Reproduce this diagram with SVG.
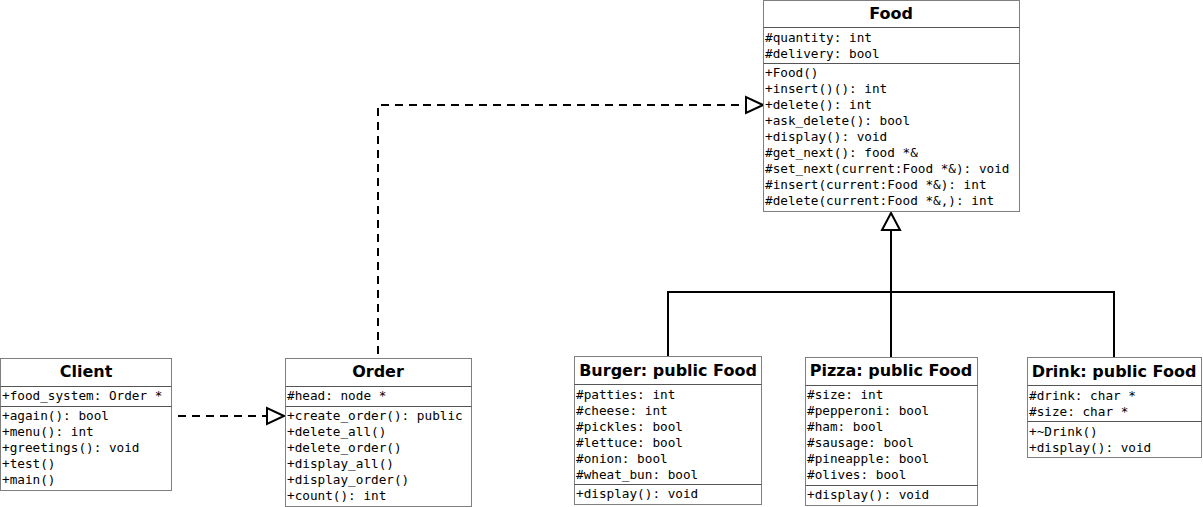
<svg xmlns="http://www.w3.org/2000/svg" width="1203" height="507" viewBox="0 0 1203 507">
<style>
.box{fill:#fff;stroke:#7f7f7f;stroke-width:1}
.div{stroke:#555;stroke-width:1}
.t{font-family:"DejaVu Sans",sans-serif;font-weight:bold;font-size:16px;fill:#000;text-anchor:middle}
.m{font-family:"DejaVu Sans Mono",monospace;font-size:12.7px;fill:#000}
.c{fill:none;stroke:#000;stroke-width:2}
.d{stroke-dasharray:8 6}
.h{fill:#fff;stroke:#000;stroke-width:2}
</style>
<g id="connectors">
<path class="c d" d="M378,354 V105 H746"/>
<polygon class="h" points="763,105 746,97 746,113"/>
<path class="c d" d="M178,416 H267"/>
<polygon class="h" points="284,416 267,408 267,424"/>
<path class="c" d="M668,356 V292 H1114 V357 M891,292 V357 M891,292 V230"/>
<polygon class="h" points="891,213 882,230 900,230"/>
</g>
<g id="food">
<rect class="box" x="763.5" y="0.5" width="256" height="211"/>
<line class="div" x1="763.5" y1="27.5" x2="1019.5" y2="27.5"/>
<line class="div" x1="763.5" y1="63.5" x2="1019.5" y2="63.5"/>
<text class="t" x="891" y="19">Food</text>
<text class="m" x="765" y="42">#quantity: int</text>
<text class="m" x="765" y="58">#delivery: bool</text>
<text class="m" x="765" y="77">+Food()</text>
<text class="m" x="765" y="93">+insert()(): int</text>
<text class="m" x="765" y="109">+delete(): int</text>
<text class="m" x="765" y="125">+ask_delete(): bool</text>
<text class="m" x="765" y="141">+display(): void</text>
<text class="m" x="765" y="157">#get_next(): food *&amp;</text>
<text class="m" x="765" y="173">#set_next(current:Food *&amp;): void</text>
<text class="m" x="765" y="189">#insert(current:Food *&amp;): int</text>
<text class="m" x="765" y="205">#delete(current:Food *&amp;,): int</text>
</g>
<g id="client">
<rect class="box" x="0.5" y="358.5" width="171" height="132"/>
<line class="div" x1="0.5" y1="386.5" x2="171.5" y2="386.5"/>
<line class="div" x1="0.5" y1="406.5" x2="171.5" y2="406.5"/>
<text class="t" x="86" y="377">Client</text>
<text class="m" x="2" y="400">+food_system: Order *</text>
<text class="m" x="2" y="420">+again(): bool</text>
<text class="m" x="2" y="436">+menu(): int</text>
<text class="m" x="2" y="452">+greetings(): void</text>
<text class="m" x="2" y="468">+test()</text>
<text class="m" x="2" y="484">+main()</text>
</g>
<g id="order">
<rect class="box" x="285.5" y="358.5" width="186" height="148"/>
<line class="div" x1="285.5" y1="386.5" x2="471.5" y2="386.5"/>
<line class="div" x1="285.5" y1="406.5" x2="471.5" y2="406.5"/>
<text class="t" x="378" y="377">Order</text>
<text class="m" x="287" y="400">#head: node *</text>
<text class="m" x="287" y="420">+create_order(): public</text>
<text class="m" x="287" y="436">+delete_all()</text>
<text class="m" x="287" y="452">+delete_order()</text>
<text class="m" x="287" y="468">+display_all()</text>
<text class="m" x="287" y="484">+display_order()</text>
<text class="m" x="287" y="500">+count(): int</text>
</g>
<g id="burger">
<rect class="box" x="574.5" y="356.5" width="187" height="148"/>
<line class="div" x1="574.5" y1="384.5" x2="761.5" y2="384.5"/>
<line class="div" x1="574.5" y1="484.5" x2="761.5" y2="484.5"/>
<text class="t" x="668" y="376">Burger: public Food</text>
<text class="m" x="576" y="399">#patties: int</text>
<text class="m" x="576" y="415">#cheese: int</text>
<text class="m" x="576" y="431">#pickles: bool</text>
<text class="m" x="576" y="447">#lettuce: bool</text>
<text class="m" x="576" y="463">#onion: bool</text>
<text class="m" x="576" y="479">#wheat_bun: bool</text>
<text class="m" x="576" y="498">+display(): void</text>
</g>
<g id="pizza">
<rect class="box" x="805.5" y="357.5" width="172" height="148"/>
<line class="div" x1="805.5" y1="385.5" x2="977.5" y2="385.5"/>
<line class="div" x1="805.5" y1="485.5" x2="977.5" y2="485.5"/>
<text class="t" x="891" y="376">Pizza: public Food</text>
<text class="m" x="807" y="399">#size: int</text>
<text class="m" x="807" y="415">#pepperoni: bool</text>
<text class="m" x="807" y="431">#ham: bool</text>
<text class="m" x="807" y="447">#sausage: bool</text>
<text class="m" x="807" y="463">#pineapple: bool</text>
<text class="m" x="807" y="479">#olives: bool</text>
<text class="m" x="807" y="499">+display(): void</text>
</g>
<g id="drink">
<rect class="box" x="1027.5" y="357.5" width="174" height="100"/>
<line class="div" x1="1027.5" y1="385.5" x2="1201.5" y2="385.5"/>
<line class="div" x1="1027.5" y1="421.5" x2="1201.5" y2="421.5"/>
<text class="t" x="1114" y="377">Drink: public Food</text>
<text class="m" x="1029" y="400">#drink: char *</text>
<text class="m" x="1029" y="416">#size: char *</text>
<text class="m" x="1029" y="436">+~Drink()</text>
<text class="m" x="1029" y="452">+display(): void</text>
</g>
</svg>
